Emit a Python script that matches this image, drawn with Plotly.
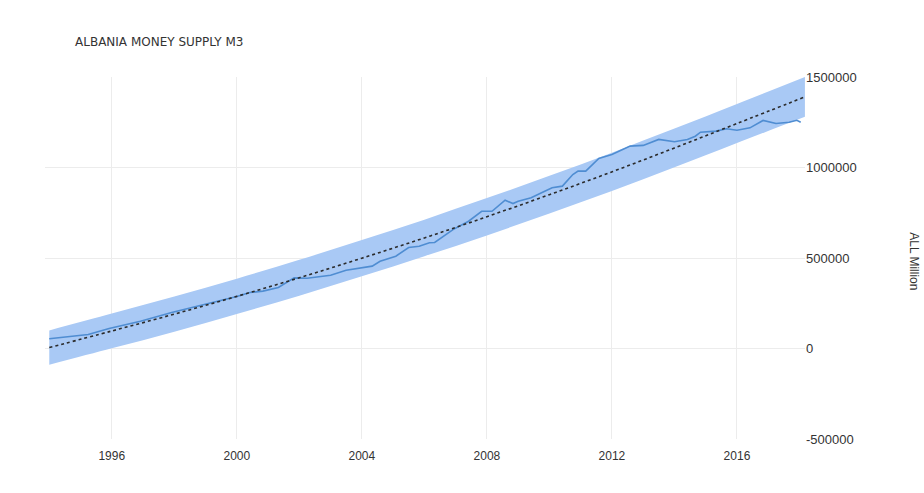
import plotly.graph_objects as go

# Albania money supply M3 (ALL million)
m3_dates = [
    "1994-01-01", "1994-10-01", "1995-04-01", "1995-12-01", "1996-12-01",
    "1997-12-01", "1999-01-01", "2000-01-01", "2000-06-01", "2000-11-01",
    "2001-05-01", "2001-11-01", "2002-04-01", "2003-01-01", "2003-07-01",
    "2004-05-01", "2004-08-01", "2005-02-01", "2005-07-01", "2005-11-01",
    "2006-03-01", "2006-05-01", "2006-12-01", "2007-06-01", "2007-11-01",
    "2008-03-01", "2008-08-01", "2008-11-01", "2009-01-01", "2009-06-01",
    "2009-10-01", "2010-02-01", "2010-06-01", "2010-10-01", "2010-12-01",
    "2011-03-01", "2011-08-01", "2012-01-01", "2012-08-01", "2013-01-01",
    "2013-07-01", "2014-01-01", "2014-06-01", "2014-09-01", "2014-11-01",
    "2015-05-01", "2015-09-01", "2016-01-01", "2016-06-01", "2016-11-01",
    "2017-04-01", "2017-09-01", "2017-12-01", "2018-01-15",
]
m3_values = [
    54000, 66000, 77000, 110000, 151000,
    199000, 243000, 287000, 309000, 317000,
    337000, 390000, 388000, 405000, 432000,
    455000, 482000, 510000, 558000, 565000,
    584000, 586000, 657000, 703000, 758000,
    758000, 819000, 801000, 814000, 833000,
    860000, 888000, 897000, 961000, 980000,
    980000, 1050000, 1072000, 1118000, 1122000,
    1155000, 1142000, 1155000, 1173000, 1195000,
    1201000, 1214000, 1206000, 1219000, 1260000,
    1243000, 1250000, 1261000, 1250000,
]

# Long-run trend and its forecast band
trend_dates = [
    "1994-01-01", "1996-01-01", "1998-01-01", "2000-01-01", "2002-01-01",
    "2004-01-01", "2006-01-01", "2008-01-01", "2010-01-01", "2012-01-01",
    "2014-01-01", "2016-01-01", "2018-03-05",
]
trend_values = [5000, 96700, 190000, 288000, 391000, 499000, 611000,
                728000, 850000, 976000, 1108000, 1243000, 1390000]
band_upper = [100000, 192700, 287000, 386000, 490000, 599000, 712000,
              831000, 954000, 1082000, 1215000, 1351000, 1500000]
band_lower = [-90000, 700, 93000, 190000, 292000, 399000, 510000,
              625000, 746000, 870000, 1001000, 1135000, 1280000]

year_ticks = ["1996", "2000", "2004", "2008", "2012", "2016"]

fig = go.Figure()

fig.add_trace(go.Scatter(
    x=trend_dates, y=band_lower, mode="lines",
    line=dict(width=0, shape="spline"), hoverinfo="skip", showlegend=False,
))
fig.add_trace(go.Scatter(
    x=trend_dates, y=band_upper, mode="lines",
    line=dict(width=0, shape="spline"), fill="tonexty",
    fillcolor="rgb(169,201,245)", hoverinfo="skip", showlegend=False,
))
fig.add_trace(go.Scatter(
    x=m3_dates, y=m3_values, mode="lines",
    line=dict(color="#4f8dd2", width=1.6), showlegend=False,
))
fig.add_trace(go.Scatter(
    x=trend_dates, y=trend_values, mode="lines",
    line=dict(color="#2b2b2b", width=1.6, dash="dot", shape="spline"),
    showlegend=False,
))

fig.update_layout(
    width=924, height=493,
    margin=dict(l=45, r=119, t=77, b=54),
    paper_bgcolor="white", plot_bgcolor="white",
    font=dict(family="Liberation Sans, Arial, sans-serif", size=12, color="#333"),
    xaxis=dict(
        type="date",
        range=["1993-11-12", "2018-03-06"],
        tickvals=[f"{y}-01-01" for y in year_ticks],
        ticktext=year_ticks,
        showgrid=True, gridcolor="#ececec", gridwidth=1,
        zeroline=False, showline=False, ticks="",
        ticklabelstandoff=8,
        tickfont=dict(size=12, color="#333"),
    ),
    yaxis=dict(
        side="right",
        range=[-500000, 1500000],
        tickvals=[-500000, 0, 500000, 1000000, 1500000],
        ticktext=["-500000", "0", "500000", "1000000", "1500000"],
        showgrid=True, gridcolor="#ececec", gridwidth=1,
        zeroline=False, showline=False, ticks="",
        tickfont=dict(size=13, color="#333"),
    ),
    annotations=[
        dict(
            text="ALBANIA MONEY SUPPLY M3", xref="paper", yref="paper",
            x=0.0368, y=1.0967, xanchor="left", yanchor="middle",
            showarrow=False,
            font=dict(family="DejaVu Sans, sans-serif", size=12, color="#333"),
        ),
        dict(
            text="ALL Million", xref="paper", yref="paper",
            x=1.143, y=0.492, xanchor="center", yanchor="middle",
            textangle=90, showarrow=False,
            font=dict(size=12, color="#333"),
        ),
    ],
)

fig.write_html("out.html")
